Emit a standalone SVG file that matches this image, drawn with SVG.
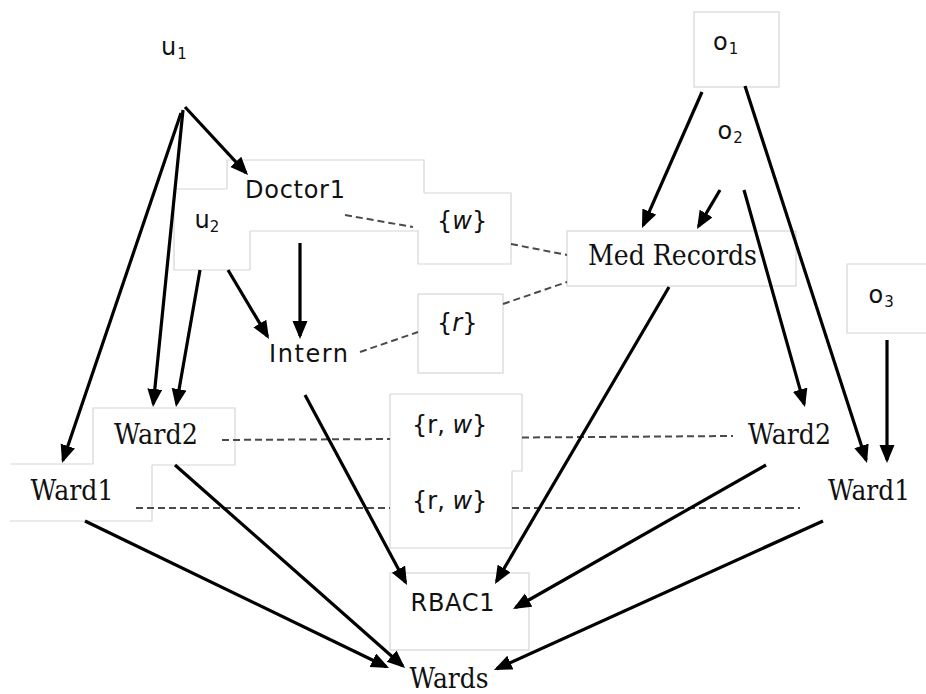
<svg xmlns="http://www.w3.org/2000/svg" width="926" height="694" viewBox="0 0 926 694">
<defs>
<style>
.fr{fill:none;stroke:#d6d6d6;stroke-width:1.2}
.sans{font-family:"DejaVu Sans","Verdana",sans-serif;font-size:24px;fill:#111}
.ser{font-family:"DejaVu Serif","Liberation Serif",serif;font-size:28px;fill:#111}
.sub{font-size:15px}
.ar{stroke:#000;stroke-width:3.2;fill:none;marker-end:url(#ah)}
.ds{stroke:#4a4a4a;stroke-width:2;stroke-dasharray:7 4;fill:none}
</style>
<marker id="ah" markerUnits="userSpaceOnUse" markerWidth="20" markerHeight="16" refX="15" refY="7.5" orient="auto">
<path d="M0,0 L18,7.5 L0,15 Z" fill="#000"/>
</marker>
</defs>
<rect width="926" height="694" fill="#fff"/>

<g id="u1"><text class="sans" x="161" y="55">u<tspan class="sub" dx="1" dy="4">1</tspan></text></g>
<g id="u2"><path class="fr" d="M174,189 H227 M174,189 V270 H250 V231"/><text class="sans" x="194.5" y="228">u<tspan class="sub" dx="0" dy="4">2</tspan></text></g>
<g id="doctor1"><path class="fr" d="M227,189 V160 H424 V193 M250,231 H418"/><text class="sans" x="245" y="198" textLength="100">Doctor1</text></g>
<g id="perm-w"><path class="fr" d="M424,193 H511 V264 H418 V230"/><text class="sans" x="437" y="229" font-size="22">{<tspan font-style="italic">w</tspan>}</text></g>
<g id="intern"><text class="sans" x="269" y="362" textLength="79">Intern</text></g>
<g id="perm-r"><rect class="fr" x="418" y="294" width="85" height="79"/><text class="sans" x="437" y="331" font-size="22">{<tspan font-style="italic">r</tspan>}</text></g>
<g id="o1"><rect class="fr" x="694" y="12" width="85" height="75"/><text class="sans" x="713" y="50">o<tspan class="sub" dx="1" dy="4">1</tspan></text></g>
<g id="o2"><text class="sans" x="717.5" y="139">o<tspan class="sub" dx="1" dy="4">2</tspan></text></g>
<g id="o3"><path class="fr" d="M930,264 H847 V333 H930"/><text class="sans" x="868.5" y="303">o<tspan class="sub" dx="1" dy="4">3</tspan></text></g>
<g id="medrecords"><rect class="fr" x="567" y="231" width="229" height="55"/><text class="ser" x="588" y="265" textLength="169" lengthAdjust="spacingAndGlyphs">Med Records</text></g>
<g id="ward2-left"><path class="fr" d="M93,464 V408 H235 V465 H152"/><text class="ser" x="114" y="444" textLength="84" lengthAdjust="spacingAndGlyphs">Ward2</text></g>
<g id="ward1-left"><path class="fr" d="M10,464 H93 M152,465 V521 H10"/><text class="ser" x="30.5" y="500" textLength="83" lengthAdjust="spacingAndGlyphs">Ward1</text></g>
<g id="perm-rw1"><path class="fr" d="M390,471 V394 H522 V471 H512"/><text class="sans" x="412" y="433" font-size="21">{r, <tspan font-style="italic">w</tspan>}</text></g>
<g id="perm-rw2"><path class="fr" d="M390,471 V548 H512 V471"/><text class="sans" x="412" y="508.5" font-size="21">{r, <tspan font-style="italic">w</tspan>}</text></g>
<g id="ward2-right"><text class="ser" x="748" y="444" textLength="83" lengthAdjust="spacingAndGlyphs">Ward2</text></g>
<g id="ward1-right"><text class="ser" x="828" y="500" textLength="82" lengthAdjust="spacingAndGlyphs">Ward1</text></g>
<g id="rbac1"><rect class="fr" x="390" y="573" width="139" height="77"/><text class="sans" x="410.5" y="611" textLength="84">RBAC1</text></g>
<g id="wards"><text class="ser" x="409.5" y="688" textLength="79" lengthAdjust="spacingAndGlyphs">Wards</text></g>

<g id="connectors">
<path class="ds" d="M345,215 L413,227"/>
<path class="ds" d="M511,244 L567,255"/>
<path class="ds" d="M360,352 L418,332"/>
<path class="ds" d="M503,304 L567,282"/>
<path class="ds" d="M222,440 L390,439"/>
<path class="ds" d="M522,437.5 L733,436"/>
<path class="ds" d="M136,508 L390,508"/>
<path class="ds" d="M512,508 L800,508"/>

<path class="ar" d="M185,107 L246,172.8"/>
<path class="ar" d="M183,110 L153.3,404"/>
<path class="ar" d="M181,113 L63,460.2"/>
<path class="ar" d="M200,270 L176.5,404"/>
<path class="ar" d="M228,270 L267.5,336.4"/>
<path class="ar" d="M300,243 L300,336"/>
<path class="ar" d="M305,395 L405.6,582.4"/>
<path class="ar" d="M669,287 L496.5,581.4"/>
<path class="ar" d="M766,465 L515.6,607.5"/>
<path class="ar" d="M823,521 L496.7,668.8"/>
<path class="ar" d="M85,521 L386.3,666.7"/>
<path class="ar" d="M175,465 L402.8,666"/>
<path class="ar" d="M702,92 L643.2,225.3"/>
<path class="ar" d="M720,190 L698.5,226.4"/>
<path class="ar" d="M744,190 L804.2,404.1"/>
<path class="ar" d="M745,86 L866.1,460.1"/>
<path class="ar" d="M887,340 L887,460"/>
</g>
</svg>
